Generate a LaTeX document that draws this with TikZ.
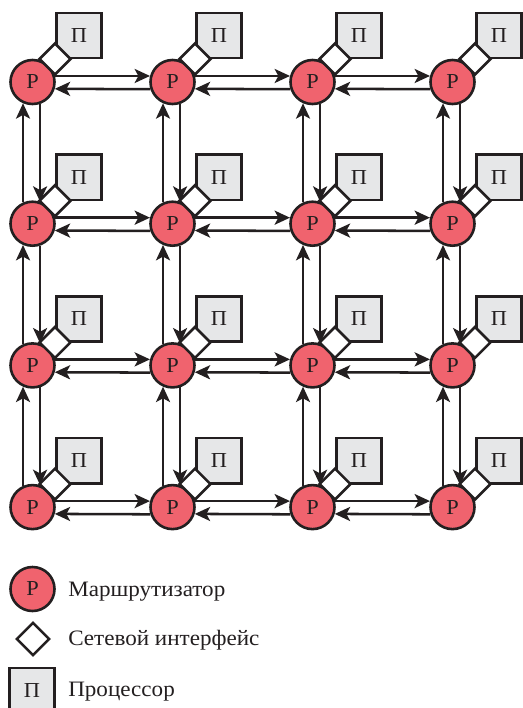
\documentclass[tikz,border=0pt]{standalone}
\usepackage{fontspec}
\setmainfont[FakeStretch=1.05]{Liberation Serif}
\usetikzlibrary{shapes.geometric,arrows.meta}
\definecolor{routerred}{HTML}{F0636E}
\definecolor{procgray}{HTML}{E6E7E8}
\definecolor{ink}{HTML}{231F20}
\tikzset{
  router/.style={circle,draw=ink,fill=routerred,line width=1.95pt,inner sep=0pt,minimum size=33pt,text=ink,font=\fontsize{16}{19}\selectfont},
  proc/.style={rectangle,draw=ink,fill=procgray,line width=1.95pt,inner sep=0pt,minimum size=34pt,text=ink,font=\fontsize{16}{19}\selectfont},
  iface/.style={diamond,draw=ink,fill=white,line width=1.95pt,inner sep=0pt,minimum width=24pt,minimum height=24pt,aspect=1},
  arr/.style={draw=ink,line width=1.9pt,-{Stealth[length=11.5pt,width=10.5pt,inset=2.8pt]}},
  legtext/.style={anchor=base west,inner sep=0pt,text=ink,font=\fontsize{16.5}{19}\selectfont}
}
\begin{document}
\begin{tikzpicture}[x=0.75pt,y=-0.75pt]
\useasboundingbox (0,0) rectangle (523,708);
\clip (0,0) rectangle (523,708);
\fill[white] (0,0) rectangle (523,708);
\foreach \i in {0,...,3}{
  \foreach \j in {0,...,3}{
    \pgfmathsetmacro{\cx}{32.5+140*\i}
    \pgfmathsetmacro{\cy}{82+141.7*\j}
    \node[router] (r\i\j) at (\cx,\cy) {Р};
    \node[proc] (p\i\j) at (\cx+46.5,\cy-46.5) {П};
    \node[iface] (n\i\j) at (\cx+22.5,\cy-23) {};
  }
}
\foreach \i in {0,1,2}{
  \foreach \j in {0,...,3}{
    \pgfmathtruncatemacro{\k}{\i+1}
    \draw[arr] (r\i\j.15) -- (r\k\j.165);
    \draw[arr] (r\k\j.-162.3) -- (r\i\j.-17.7);
  }
}
\foreach \i in {0,...,3}{
  \foreach \j in {0,1,2}{
    \pgfmathtruncatemacro{\k}{\j+1}
    \draw[arr] (r\i\j.-71) -- (r\i\k.71);
    \draw[arr] (r\i\k.114) -- (r\i\j.-114);
  }
}
% legend
\node[router] (lr) at (32.5,589) {Р};
\node[iface,minimum width=25pt,minimum height=25pt] (ln) at (33,639) {};
\node[proc] (lp) at (32,690.5) {П};
\node[legtext] (lt1) at (68,596) {Маршрутизатор};
\node[legtext] (lt2) at (68,645) {Сетевой интерфейс};
\node[legtext] (lt3) at (68,696) {Процессор};
\end{tikzpicture}
\end{document}
